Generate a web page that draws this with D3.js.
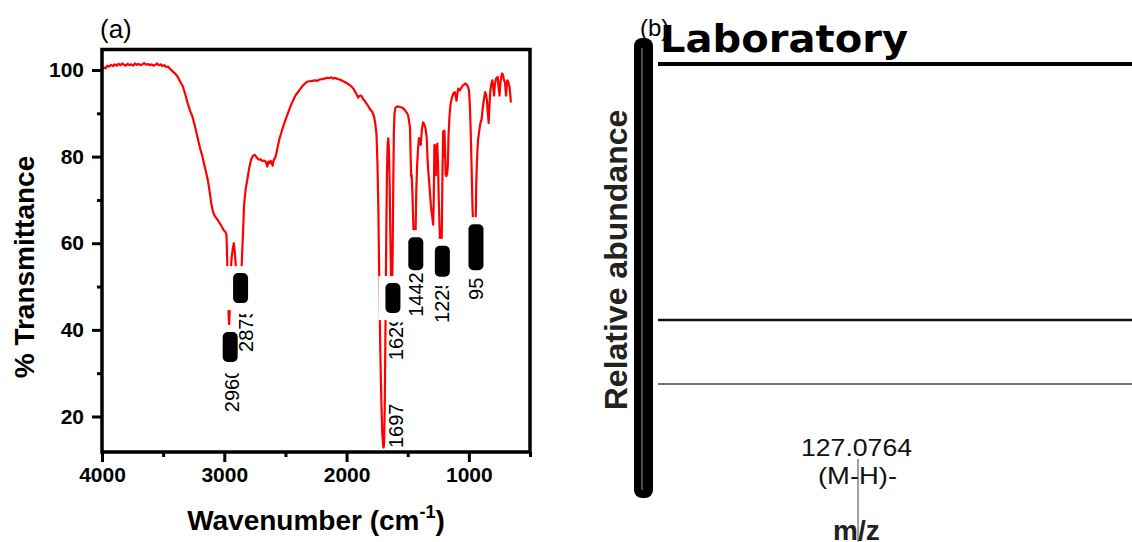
<!DOCTYPE html>
<html>
<head>
<meta charset="utf-8">
<script src="https://cdn.jsdelivr.net/npm/d3@7"></script>
<style>
  body { margin: 0; background: #fff; }
  svg { display: block; font-family: "Liberation Sans", Arial, sans-serif; }
</style>
</head>
<body>
<div class="chart"></div>
<script>
// FTIR spectrum (cm-1, % transmittance)
var wavenumber = [
  4000, 3985, 3970, 3955, 3940, 3925, 3910, 3895, 3880, 3865, 3850, 3835, 3820, 3805, 3790, 3775,
  3760, 3745, 3730, 3715, 3700, 3685, 3670, 3655, 3640, 3625, 3610, 3595, 3580, 3565, 3550, 3535,
  3520, 3505, 3490, 3475, 3460, 3445, 3430, 3415, 3400, 3385, 3370, 3355, 3340, 3320, 3300, 3280,
  3260, 3240, 3225, 3210, 3195, 3180, 3165, 3150, 3136, 3120, 3107, 3095, 3080, 3065, 3050, 3035,
  3020, 3005, 2990, 2982, 2976, 2970, 2964, 2960, 2956, 2950, 2942, 2932, 2922, 2914, 2904, 2894,
  2884, 2875, 2866, 2856, 2846, 2838, 2825, 2810, 2795, 2780, 2765, 2750, 2735, 2720, 2705, 2690,
  2675, 2660, 2648, 2638, 2628, 2618, 2605, 2595, 2580, 2565, 2550, 2535, 2520, 2500, 2480, 2460,
  2440, 2420, 2400, 2380, 2360, 2340, 2320, 2300, 2280, 2260, 2240, 2220, 2200, 2180, 2160, 2140,
  2125, 2110, 2095, 2080, 2060, 2040, 2020, 2000, 1980, 1960, 1945, 1930, 1915, 1905, 1895, 1880,
  1865, 1850, 1835, 1820, 1805, 1790, 1775, 1765, 1755, 1748, 1740, 1732, 1724, 1716, 1708, 1700,
  1697, 1693, 1688, 1682, 1676, 1670, 1664, 1659, 1654, 1648, 1642, 1636, 1629, 1623, 1618, 1613,
  1608, 1600, 1585, 1570, 1555, 1540, 1525, 1510, 1497, 1488, 1481, 1476, 1472, 1468, 1462, 1455,
  1448, 1442, 1436, 1430, 1423, 1416, 1408, 1400, 1393, 1385, 1375, 1365, 1355, 1345, 1337, 1330,
  1320, 1310, 1300, 1292, 1287, 1282, 1276, 1270, 1264, 1258, 1252, 1246, 1240, 1233, 1225, 1220,
  1215, 1210, 1205, 1200, 1195, 1190, 1184, 1178, 1172, 1166, 1158, 1150, 1140, 1128, 1116, 1108,
  1101, 1094, 1087, 1080, 1072, 1060, 1050, 1040, 1028, 1018, 1008, 999, 992, 986, 978, 970,
  962, 955, 950, 945, 940, 934, 926, 915, 905, 896, 889, 882, 875, 867, 860, 852,
  845, 838, 832, 825, 818, 808, 800, 794, 788, 778, 770, 764, 757, 749, 742, 735,
  728, 720, 712, 705, 700, 696, 690, 685, 678, 672, 667, 662, 656
];
var transmittance = [
  100.0, 100.6, 100.4, 101.0, 100.8, 101.2, 100.9, 101.3, 101.0, 101.4, 101.1, 101.5, 101.2, 101.0, 101.4, 101.1,
  101.3, 101.0, 101.5, 101.2, 101.4, 101.1, 101.3, 101.6, 101.2, 101.4, 101.1, 101.3, 101.0, 101.2, 101.5, 101.1,
  101.3, 100.9, 101.1, 100.7, 100.8, 100.3, 99.9, 99.5, 99.1, 98.6, 97.8, 97.0, 96.3, 94.5, 92.4, 90.6,
  89.2, 87.0, 85.2, 83.4, 81.6, 80.2, 78.3, 76.5, 74.8, 72.0, 69.3, 67.6, 66.4, 65.8, 65.2, 64.5,
  63.8, 63.0, 62.6, 62.0, 56.0, 48.0, 43.0, 41.3, 44.0, 51.0, 56.0, 58.5, 60.0, 58.0, 54.0, 50.0,
  48.0, 47.5, 50.0, 56.0, 63.0, 69.0, 72.5, 75.0, 77.5, 79.4, 80.2, 80.4, 79.8, 79.3, 79.4, 79.0,
  79.1, 78.8, 77.7, 78.9, 78.5, 79.0, 77.9, 79.2, 80.0, 82.0, 84.0, 85.4, 86.8, 88.5, 90.0, 91.5,
  92.8, 94.0, 94.8, 95.6, 96.3, 96.9, 97.3, 97.4, 97.5, 97.6, 97.5, 97.8, 97.9, 98.0, 98.2, 98.1,
  98.3, 98.0, 98.2, 98.0, 97.8, 97.6, 97.3, 97.0, 96.6, 96.2, 95.7, 95.0, 94.2, 93.6, 94.0, 94.1,
  93.3, 92.8, 92.2, 91.5, 90.8, 90.3, 89.2, 87.6, 85.0, 79.0, 68.0, 50.0, 35.0, 24.0, 16.0, 13.0,
  12.8, 14.0, 22.0, 40.0, 60.0, 76.0, 83.0, 84.2, 82.0, 74.0, 62.0, 52.0, 47.5, 58.0, 74.0, 86.0,
  90.0, 91.3, 91.6, 91.5, 91.4, 91.2, 90.8, 90.2, 89.6, 88.0, 86.5, 80.0, 75.5, 75.8, 72.0, 65.0,
  59.0, 56.0, 62.0, 72.0, 78.0, 81.5, 84.3, 83.0, 82.7, 86.0, 87.9, 87.5, 86.6, 84.5, 79.0, 76.0,
  72.5, 68.5, 66.2, 64.3, 70.0, 82.7, 80.0, 75.7, 82.5, 83.0, 78.0, 70.0, 64.0, 58.0, 55.5, 65.0,
  78.0, 85.8, 80.0, 86.0, 82.0, 76.0, 75.5, 76.0, 78.0, 85.0, 89.5, 92.0, 93.5, 94.5, 94.9, 94.0,
  92.9, 94.5, 95.7, 95.4, 95.3, 96.0, 96.4, 96.6, 96.9, 96.6, 96.2, 95.3, 92.0, 87.0, 78.0, 68.0,
  62.0, 60.0, 59.5, 63.0, 73.0, 79.0, 83.5, 86.0, 87.8, 88.6, 90.5, 92.2, 93.5, 94.9, 94.4, 93.0,
  90.0, 87.8, 91.5, 95.0, 96.5, 97.6, 96.0, 94.1, 96.5, 98.0, 98.3, 98.4, 96.0, 94.1, 97.0, 98.5,
  99.2, 98.8, 97.5, 97.3, 95.5, 94.1, 96.5, 97.6, 97.3, 96.6, 96.1, 94.5, 92.5
];

var xTicks = [4000, 3000, 2000, 1000];
var xMinorTicks = [3500, 2500, 1500, 500];
var yTicks = [20, 40, 60, 80, 100];
var yMinorTicks = [30, 50, 70, 90];

// peak labels
var peakWn = [2960, 2875, 1697, 1629, 1442, 1225, 950];
var peakText = ["2960", "2875", "1697", "1629", "1442", "1225", "950"];

// where each label tag sits (in % transmittance), box height, text offset and how much of the text shows
var tagTop = [39.5, 53.1, null, 50.8, 61.4, 59.4, 64.4];
var tagHeight = [30, 30, 0, 30, 33, 31, 46];
var tagTextStart = [21.0, 34.9, 12.7, 33.0, 43.0, 41.6, 46.9];
var tagTextDx = [9.5, 13, 19.5, 11.5, 8, 8, 8];
var tagTextShown = [39, 38, 60, 38, 60, 37, 23];

var svgWidth = 1132;
var svgHeight = 542;

var margin = { top: 49.5, left: 102 };
var plotRight = margin.left + 428;
var plotBottom = 452;

var svg = d3.select(".chart")
  .append("svg")
  .attr("width", svgWidth)
  .attr("height", svgHeight);

var x = d3.scaleLinear().domain([4000, 500]).range([margin.left, plotRight]);
var y = d3.scaleLinear().domain([11.8, 104.73]).range([plotBottom, margin.top]);

// ---------- panel (a) ----------
var panelA = svg.append("g");

var bottomAxis = d3.axisBottom(x).tickValues(xTicks).tickSize(10).tickPadding(5).tickSizeOuter(0).tickFormat(d3.format("d"));
var bottomMinor = d3.axisBottom(x).tickValues(xMinorTicks).tickSize(5).tickFormat("").tickSizeOuter(0);
var leftAxis = d3.axisLeft(y).tickValues(yTicks).tickSize(10).tickPadding(8).tickSizeOuter(0).tickFormat(d3.format("d"));
var leftMinor = d3.axisLeft(y).tickValues(yMinorTicks).tickSize(5).tickFormat("").tickSizeOuter(0);

[[bottomAxis, "b"], [bottomMinor, "b"], [leftAxis, "l"], [leftMinor, "l"]].forEach(function(a) {
  var g = panelA.append("g")
    .attr("transform", a[1] === "b" ? `translate(0, ${plotBottom})` : `translate(${margin.left}, 0)`)
    .call(a[0]);
  g.select(".domain").remove();
  g.selectAll(".tick line").attr("stroke", "#000").attr("stroke-width", 3);
  g.selectAll(".tick text")
    .attr("fill", "#000")
    .style("font-size", "21px")
    .style("font-weight", "bold")
    .style("font-family", "'Liberation Sans', Arial, sans-serif");
});

// spectrum
var line = d3.line()
  .x(function(d, i) { return x(wavenumber[i]); })
  .y(function(d) { return y(d); });

panelA.append("path")
  .datum(transmittance)
  .attr("d", line)
  .attr("fill", "none")
  .attr("stroke", "#ff0000")
  .attr("stroke-width", 2.2)
  .attr("stroke-linejoin", "round");

// white masks behind the tags
var tagIdx = d3.range(peakWn.length).filter(function(i) { return tagTop[i] !== null; });

panelA.selectAll(".mask")
  .data(tagIdx)
  .enter()
  .append("rect")
  .attr("class", "mask")
  .attr("x", function(i) { return x(peakWn[i]) + 1 - 14.5; })
  .attr("y", function(i) { return y(tagTop[i]) - 7; })
  .attr("width", 29)
  .attr("height", function(i) { return tagHeight[i] + 14; })
  .attr("fill", "#fff");

panelA.selectAll(".tag")
  .data(tagIdx)
  .enter()
  .append("rect")
  .attr("class", "tag")
  .attr("x", function(i) { return x(peakWn[i]) + 1 - 7.5; })
  .attr("y", function(i) { return y(tagTop[i]); })
  .attr("width", 15)
  .attr("height", function(i) { return tagHeight[i]; })
  .attr("rx", 5)
  .attr("fill", "#000");

var defs = svg.append("defs");
peakWn.forEach(function(wn, i) {
  defs.append("clipPath").attr("id", "lab" + i)
    .append("rect")
    .attr("x", 0).attr("y", -30)
    .attr("width", tagTextShown[i]).attr("height", 40);

  panelA.append("g")
    .attr("transform", `translate(${x(wn) + tagTextDx[i]}, ${y(tagTextStart[i])}) rotate(-90)`)
    .append("text")
    .attr("clip-path", "url(#lab" + i + ")")
    .style("font-size", "20px")
    .attr("fill", "#000")
    .text(peakText[i]);
});

// frame
panelA.append("rect")
  .attr("x", margin.left)
  .attr("y", margin.top)
  .attr("width", plotRight - margin.left)
  .attr("height", plotBottom - margin.top)
  .attr("fill", "none")
  .attr("stroke", "#000")
  .attr("stroke-width", 3.5);

panelA.append("text")
  .attr("x", 100)
  .attr("y", 38)
  .style("font-size", "26px")
  .text("(a)");

var xLabel = panelA.append("text")
  .attr("x", (margin.left + plotRight) / 2)
  .attr("y", 530)
  .attr("text-anchor", "middle")
  .style("font-size", "28px")
  .style("font-weight", "bold")
  .text("Wavenumber (cm");
xLabel.append("tspan").attr("dy", -12).style("font-size", "18px").text("-1");
xLabel.append("tspan").attr("dy", 12).text(")");

panelA.append("text")
  .attr("transform", "translate(34, 267) rotate(-90)")
  .attr("text-anchor", "middle")
  .style("font-size", "28px")
  .style("font-weight", "bold")
  .text("% Transmittance");

// ---------- panel (b) ----------
var panelB = svg.append("g");

panelB.append("text")
  .attr("x", 640)
  .attr("y", 36)
  .style("font-size", "24px")
  .text("(b)");

panelB.append("rect")
  .attr("x", 634).attr("y", 38)
  .attr("width", 19).attr("height", 460)
  .attr("rx", 8)
  .attr("fill", "#000");
panelB.append("line")
  .attr("x1", 642).attr("x2", 642).attr("y1", 48).attr("y2", 490)
  .attr("stroke", "#666").attr("stroke-width", 1.5);

panelB.append("text")
  .attr("x", 660)
  .attr("y", 52)
  .attr("textLength", 248)
  .attr("lengthAdjust", "spacingAndGlyphs")
  .style("font-family", "'DejaVu Sans', Verdana, sans-serif")
  .style("font-size", "37px")
  .style("font-weight", "bold")
  .text("Laboratory");

var hLines = [[64, 4, "#000"], [320, 2.5, "#111"], [384, 1.5, "#444"]];
hLines.forEach(function(h) {
  panelB.append("line")
    .attr("x1", 658).attr("x2", svgWidth)
    .attr("y1", h[0]).attr("y2", h[0])
    .attr("stroke", h[2]).attr("stroke-width", h[1]);
});

panelB.append("text")
  .attr("transform", "translate(627, 260) rotate(-90)")
  .attr("text-anchor", "middle")
  .style("font-size", "32px")
  .style("font-weight", "bold")
  .attr("fill", "#222")
  .text("Relative abundance");

panelB.append("line")
  .attr("x1", 858).attr("x2", 858).attr("y1", 459).attr("y2", svgHeight)
  .attr("stroke", "#444").attr("stroke-width", 1);

panelB.append("text")
  .attr("x", 801).attr("y", 456)
  .attr("textLength", 111)
  .attr("lengthAdjust", "spacingAndGlyphs")
  .style("font-size", "24px")
  .attr("fill", "#111")
  .text("127.0764");

panelB.append("text")
  .attr("x", 818).attr("y", 484)
  .attr("textLength", 79)
  .attr("lengthAdjust", "spacingAndGlyphs")
  .style("font-size", "24px")
  .attr("fill", "#111")
  .text("(M-H)-");

panelB.append("text")
  .attr("x", 833).attr("y", 540)
  .style("font-size", "28px")
  .style("font-weight", "bold")
  .attr("fill", "#222")
  .text("m/z");
</script>
</body>
</html>
